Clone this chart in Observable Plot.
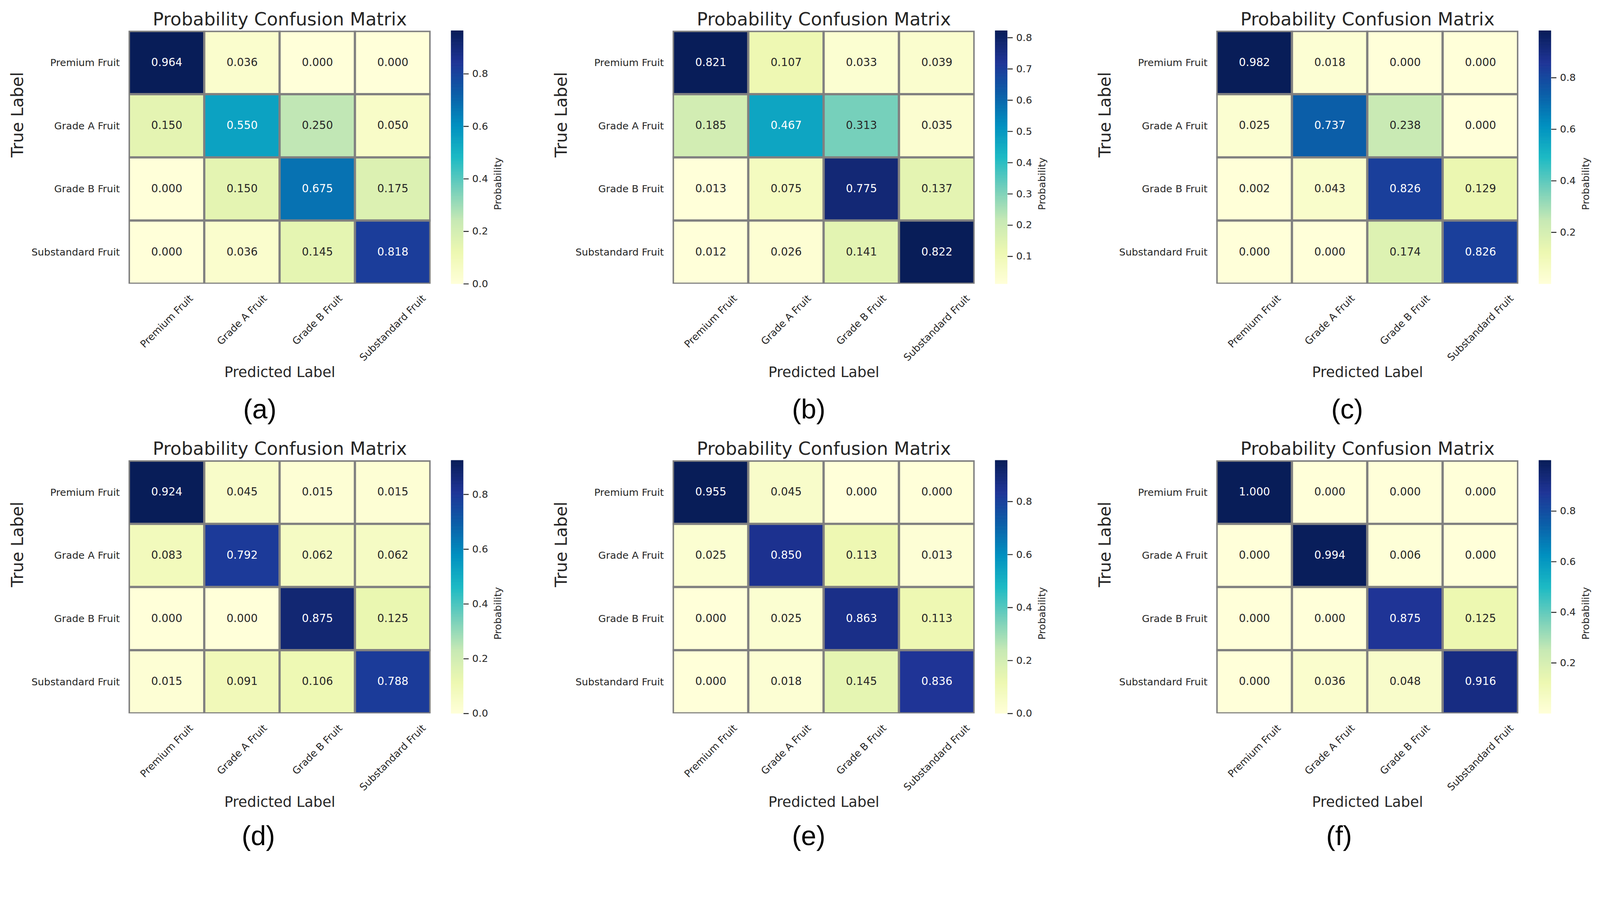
<!DOCTYPE html>
<html><head><meta charset="utf-8">
<script src="https://cdn.jsdelivr.net/npm/d3@7"></script>
<script src="https://cdn.jsdelivr.net/npm/@observablehq/plot@0.6"></script>
<style>
html,body{margin:0;padding:0;background:#fff;overflow:hidden;}
#stage{position:absolute;left:0;top:0;width:4332px;height:2306px;transform-origin:0 0;overflow:hidden;background:#fff;}
</style></head><body>
<div id="stage"></div>
<script>
// ---------- data ----------
const categories = ["Premium Fruit", "Grade A Fruit", "Grade B Fruit", "Substandard Fruit"];
const panelLetters = ["(a)", "(b)", "(c)", "(d)", "(e)", "(f)"];

const matrixA = [[0.964,0.036,0.000,0.000],[0.150,0.550,0.250,0.050],[0.000,0.150,0.675,0.175],[0.000,0.036,0.145,0.818]];
const matrixB = [[0.821,0.107,0.033,0.039],[0.185,0.467,0.313,0.035],[0.013,0.075,0.775,0.137],[0.012,0.026,0.141,0.822]];
const matrixC = [[0.982,0.018,0.000,0.000],[0.025,0.737,0.238,0.000],[0.002,0.043,0.826,0.129],[0.000,0.000,0.174,0.826]];
const matrixD = [[0.924,0.045,0.015,0.015],[0.083,0.792,0.062,0.062],[0.000,0.000,0.875,0.125],[0.015,0.091,0.106,0.788]];
const matrixE = [[0.955,0.045,0.000,0.000],[0.025,0.850,0.113,0.013],[0.000,0.025,0.863,0.113],[0.000,0.018,0.145,0.836]];
const matrixF = [[1.000,0.000,0.000,0.000],[0.000,0.994,0.006,0.000],[0.000,0.000,0.875,0.125],[0.000,0.036,0.048,0.916]];

const cbarTicksA = [0.0, 0.2, 0.4, 0.6, 0.8];
const cbarTicksB = [0.1, 0.2, 0.3, 0.4, 0.5, 0.6, 0.7, 0.8];
const cbarTicksC = [0.2, 0.4, 0.6, 0.8];
const cbarTicksD = [0.0, 0.2, 0.4, 0.6, 0.8];
const cbarTicksE = [0.0, 0.2, 0.4, 0.6, 0.8];
const cbarTicksF = [0.2, 0.4, 0.6, 0.8];

const titleText = "Probability Confusion Matrix";
const xLabelText = "Predicted Label";
const yLabelText = "True Label";
const cbarLabelText = "Probability";

// YlGnBu as it appears in the reference (matplotlib YlGnBu, more saturated mid tones)
const YLGNBU_SHOWN = ["#ffffd9","#edf8b1","#c7e9b4","#74cfbb","#1cbac4","#0090c0","#0b5ea8","#1f3496","#081d58"];
// matplotlib YlGnBu (used for seaborn's annotation text colour decision)
const YLGNBU = ["#ffffd9","#edf8b1","#c7e9b4","#7fcdbb","#41b6c4","#1d91c0","#225ea8","#253494","#081d58"];

// ---------- layout (in a 4332 x 2306 design space, scaled to the window) ----------
const DESIGN_W = 4332, DESIGN_H = 2306;
const FONT = "'DejaVu Sans', sans-serif";
const FRAME_L = 348, FRAME_T = 83, FRAME_W = 818, FRAME_H = 685;
const PANEL_W = 1387, ROW_H = [1163, 1143];
const COL_DX = 1472.5, ROW_DY = 1163;
const CB_L = 1221, CB_W = 33, CB_PAD = 20, CB_RIGHT = 200;
const TICK_FS = 27, ANNOT_FS = 29.5;

const stage = document.getElementById("stage");
const fit = Math.min(window.innerWidth / DESIGN_W, window.innerHeight / DESIGN_H);
stage.style.transform = `scale(${fit})`;

const panels = [
  {M: matrixA, ticks: cbarTicksA, col: 0, row: 0, ldx: -54, ldy: 364},
  {M: matrixB, ticks: cbarTicksB, col: 1, row: 0, ldx: -41, ldy: 364},
  {M: matrixC, ticks: cbarTicksC, col: 2, row: 0, ldx: -55, ldy: 364},
  {M: matrixD, ticks: cbarTicksD, col: 0, row: 1, ldx: -58, ldy: 356},
  {M: matrixE, ticks: cbarTicksE, col: 1, row: 1, ldx: -41, ldy: 356},
  {M: matrixF, ticks: cbarTicksF, col: 2, row: 1, ldx: -77, ldy: 356}
];

const ctx = document.createElement("canvas").getContext("2d");
function textWidth(s, fs) { ctx.font = `${fs}px 'DejaVu Sans'`; return ctx.measureText(s).width; }

function relLum(c) {
  const {r, g, b} = d3.rgb(c);
  const f = v => { v /= 255; return v <= 0.03928 ? v / 12.92 : Math.pow((v + 0.055) / 1.055, 2.4); };
  return 0.2126 * f(r) + 0.7152 * f(g) + 0.0722 * f(b);
}

function place(el, left, top) {
  el.style.position = "absolute";
  el.style.left = left + "px";
  el.style.top = top + "px";
  el.style.maxWidth = "none";
  stage.appendChild(el);
}

panels.forEach((p, k) => {
  const values = p.M.flat();
  const vmin = d3.min(values), vmax = d3.max(values);
  const interp = d3.piecewise(d3.interpolateRgb, YLGNBU_SHOWN);
  const interpMpl = d3.piecewise(d3.interpolateRgb, YLGNBU);
  const colorOpt = {type: "linear", domain: [vmin, vmax], interpolate: interp};
  const cells = categories.flatMap((t, i) => categories.map((c, j) => ({truth: t, pred: c, value: p.M[i][j]})));
  const dark = d => relLum(interpMpl((d.value - vmin) / (vmax - vmin))) > 0.408;

  const c45 = Math.SQRT1_2, capH = 0.729 * TICK_FS;
  const xLabels = categories.map(cat => Plot.text([cat], {
    x: d => d, text: d => d, frameAnchor: "bottom", rotate: -45,
    textAnchor: "middle", lineAnchor: "middle", fontSize: TICK_FS,
    dy: 28 + c45 * (textWidth(cat, TICK_FS) + capH) / 2
  }));

  const ox = p.col * COL_DX, oy = p.row * ROW_DY;
  const H = ROW_H[p.row];

  const heat = Plot.plot({
    width: PANEL_W, height: H,
    marginLeft: FRAME_L, marginTop: FRAME_T,
    marginRight: PANEL_W - FRAME_L - FRAME_W, marginBottom: H - FRAME_T - FRAME_H,
    x: {domain: categories, padding: 0, axis: null},
    y: {domain: categories, padding: 0},
    color: colorOpt,
    style: {fontFamily: FONT, color: "#262626", background: "transparent", maxWidth: "none"},
    marks: [
      Plot.cell(cells, {x: "pred", y: "truth", fill: "value", stroke: "#808080", strokeWidth: 6, clip: true, inset: 0}),
      Plot.text(cells, {filter: dark, x: "pred", y: "truth", text: d => d.value.toFixed(3), fill: "#262626", fontSize: ANNOT_FS, lineAnchor: "middle", dy: -1}),
      Plot.text(cells, {filter: d => !dark(d), x: "pred", y: "truth", text: d => d.value.toFixed(3), fill: "white", fontSize: ANNOT_FS, lineAnchor: "middle", dy: -1}),
      Plot.axisY({tickSize: 0, tickPadding: 24, fontSize: TICK_FS, label: null}),
      ...xLabels,
      Plot.text([titleText], {text: d => d, frameAnchor: "top", lineAnchor: "bottom", dy: -15, fontSize: 49}),
      Plot.text([yLabelText], {text: d => d, frameAnchor: "left", rotate: -90, lineAnchor: "middle", dx: 47 - FRAME_L, fontSize: 45}),
      Plot.text([xLabelText], {text: d => d, frameAnchor: "bottom", lineAnchor: "bottom", dy: 252, fontSize: 39}),
      Plot.text([panelLetters[k]], {text: d => d, frameAnchor: "bottom", lineAnchor: "bottom", dx: p.ldx, dy: p.ldy, fontSize: 74, fontFamily: "'Liberation Sans', Arial, sans-serif", fill: "black"})
    ]
  });
  place(heat, ox, oy);

  const N = 240;
  const slices = d3.range(N).map(i => {
    const v0 = vmin + (vmax - vmin) * i / N, v1 = vmin + (vmax - vmin) * (i + 1) / N;
    return {v0, v1, v: (v0 + v1) / 2};
  });
  const cbar = Plot.plot({
    width: CB_W + CB_RIGHT, height: FRAME_H + 2 * CB_PAD,
    marginLeft: 0, marginRight: CB_RIGHT, marginTop: CB_PAD, marginBottom: CB_PAD,
    y: {domain: [vmin, vmax]},
    color: colorOpt,
    style: {fontFamily: FONT, color: "#262626", background: "transparent", maxWidth: "none"},
    marks: [
      Plot.barY(slices, {y1: "v0", y2: "v1", fill: "v", stroke: "v", strokeWidth: 1}),
      Plot.axisY({anchor: "right", ticks: p.ticks, tickFormat: d => d.toFixed(1), tickSize: 14, tickPadding: 10, strokeWidth: 2.5, fontSize: TICK_FS, label: null}),
      Plot.text([cbarLabelText], {text: d => d, frameAnchor: "right", rotate: -90, lineAnchor: "middle", dx: 94, fontSize: TICK_FS})
    ]
  });
  place(cbar, ox + CB_L, oy + FRAME_T - CB_PAD);
});
</script>
</body></html>
